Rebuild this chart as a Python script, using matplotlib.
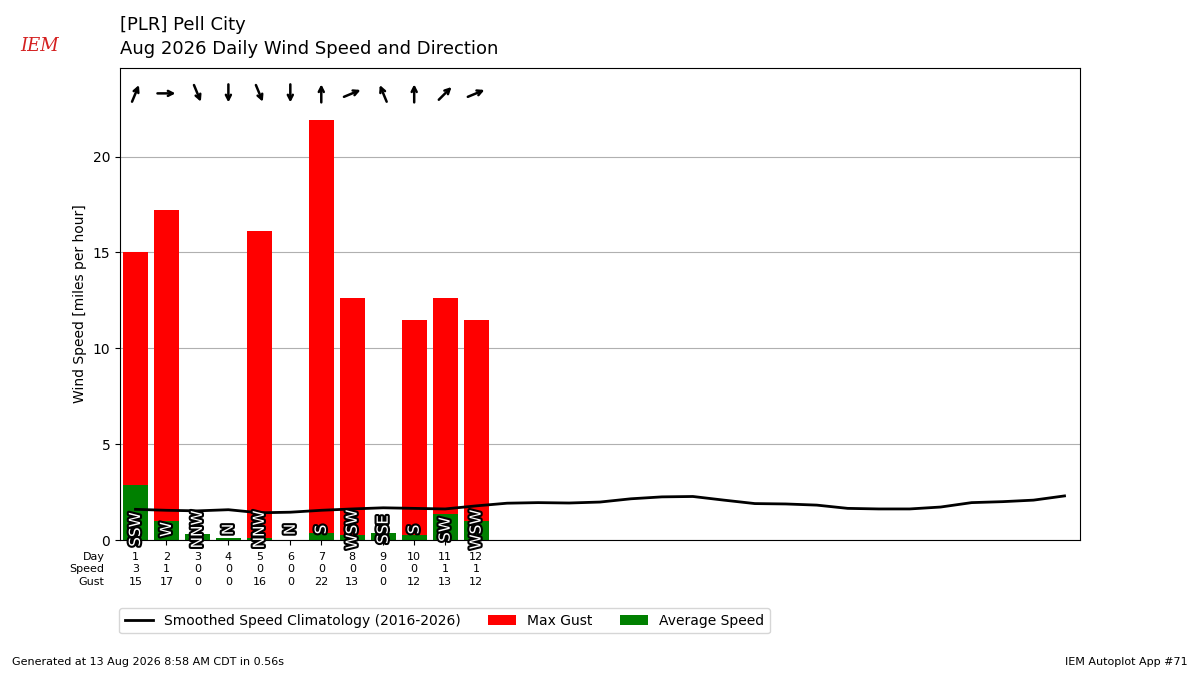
import matplotlib.pyplot as plt
import matplotlib.patheffects as pe
import numpy as np

days = np.arange(1, 13)
gust = [15.0, 17.2, 0, 0, 16.1, 0, 21.9, 12.65, 0, 11.5, 12.65, 11.5]
avg = [2.85, 1.0, 0.3, 0.1, 0.1, 0, 0.35, 0.25, 0.35, 0.25, 1.35, 1.0]
speed_lbl = [3, 1, 0, 0, 0, 0, 0, 0, 0, 0, 1, 1]
gust_lbl = [15, 17, 0, 0, 16, 0, 22, 13, 0, 12, 13, 12]
dirs = ["SSW", "W", "NNW", "N", "NNW", "N", "S", "WSW", "SSE", "S", "SW", "WSW"]
clim_days = np.arange(1, 32)
clim = [1.6, 1.55, 1.52, 1.58, 1.42, 1.45, 1.55, 1.62, 1.68, 1.65, 1.62, 1.78,
        1.92, 1.95, 1.93, 1.98, 2.15, 2.25, 2.27, 2.08, 1.9, 1.88, 1.82, 1.65,
        1.62, 1.62, 1.72, 1.95, 2.0, 2.08, 2.3]

compass = ["N", "NNE", "NE", "ENE", "E", "ESE", "SE", "SSE",
           "S", "SSW", "SW", "WSW", "W", "WNW", "NW", "NNW"]

fig = plt.figure(figsize=(12, 6.75), dpi=100)
ax = fig.add_axes([0.1, 0.2, 0.8, 0.7])

ax.bar(days, gust, width=0.8, color="red", label="Max Gust", zorder=2)
ax.bar(days, avg, width=0.8, color="green", label="Average Speed", zorder=2)
ax.plot(clim_days, clim, color="k", lw=2,
        label="Smoothed Speed Climatology (2016-2026)", zorder=3)

ax.set_xlim(0.5, 31.5)
ax.set_ylim(0, 24.65)
# data units per pixel, for arrows of equal length in any direction
xpp = 31.0 / 960
ypp = 24.65 / 472

for d, s in zip(days, dirs):
    ax.text(d, 0.55, s, rotation=90, ha="center", va="center", color="white",
            fontsize=11, zorder=4,
            path_effects=[pe.withStroke(linewidth=3, foreground="k")])
    # arrow points where the wind goes (from-direction + 180)
    to_rad = np.radians(compass.index(s) * 22.5 + 180)
    u, v = np.sin(to_rad), np.cos(to_rad)
    ax.annotate("", xy=(d + 9 * u * xpp, 23.3 + 9 * v * ypp),
                xytext=(d - 9 * u * xpp, 23.3 - 9 * v * ypp), zorder=4,
                arrowprops=dict(arrowstyle="->,head_length=0.35,head_width=0.18",
                                lw=1.8, color="k", shrinkA=0, shrinkB=0))

ax.set_yticks([0, 5, 10, 15, 20])
ax.grid(axis="y", color="#b0b0b0", zorder=0)
ax.set_ylabel("Wind Speed [miles per hour]")
ax.set_xticks(days)
ax.set_xticklabels([""] * len(days))

tr = ax.get_xaxis_transform()
for d, sp, g in zip(days, speed_lbl, gust_lbl):
    ax.text(d, -0.035, str(d), transform=tr, ha="center", va="center", fontsize=8)
    ax.text(d, -0.062, str(sp), transform=tr, ha="center", va="center", fontsize=8)
    ax.text(d, -0.089, str(g), transform=tr, ha="center", va="center", fontsize=8)
for yy, t in zip([-0.035, -0.062, -0.089], ["Day", "Speed", "Gust"]):
    ax.text(0.0, yy, t, transform=tr, ha="right", va="center", fontsize=8)

ax.legend(loc="upper left", bbox_to_anchor=(-0.008, -0.13), ncol=3, fontsize=10)

fig.text(0.1, 0.963, "[PLR] Pell City", fontsize=13, va="center")
fig.text(0.1, 0.927, "Aug 2026 Daily Wind Speed and Direction", fontsize=13, va="center")
fig.text(0.017, 0.925, "IEM", color="#d42020", fontsize=13, style="italic", fontfamily="serif")
fig.text(0.01, 0.015, "Generated at 13 Aug 2026 8:58 AM CDT in 0.56s", fontsize=8)
fig.text(0.99, 0.015, "IEM Autoplot App #71", fontsize=8, ha="right")

fig.savefig("out.png")
